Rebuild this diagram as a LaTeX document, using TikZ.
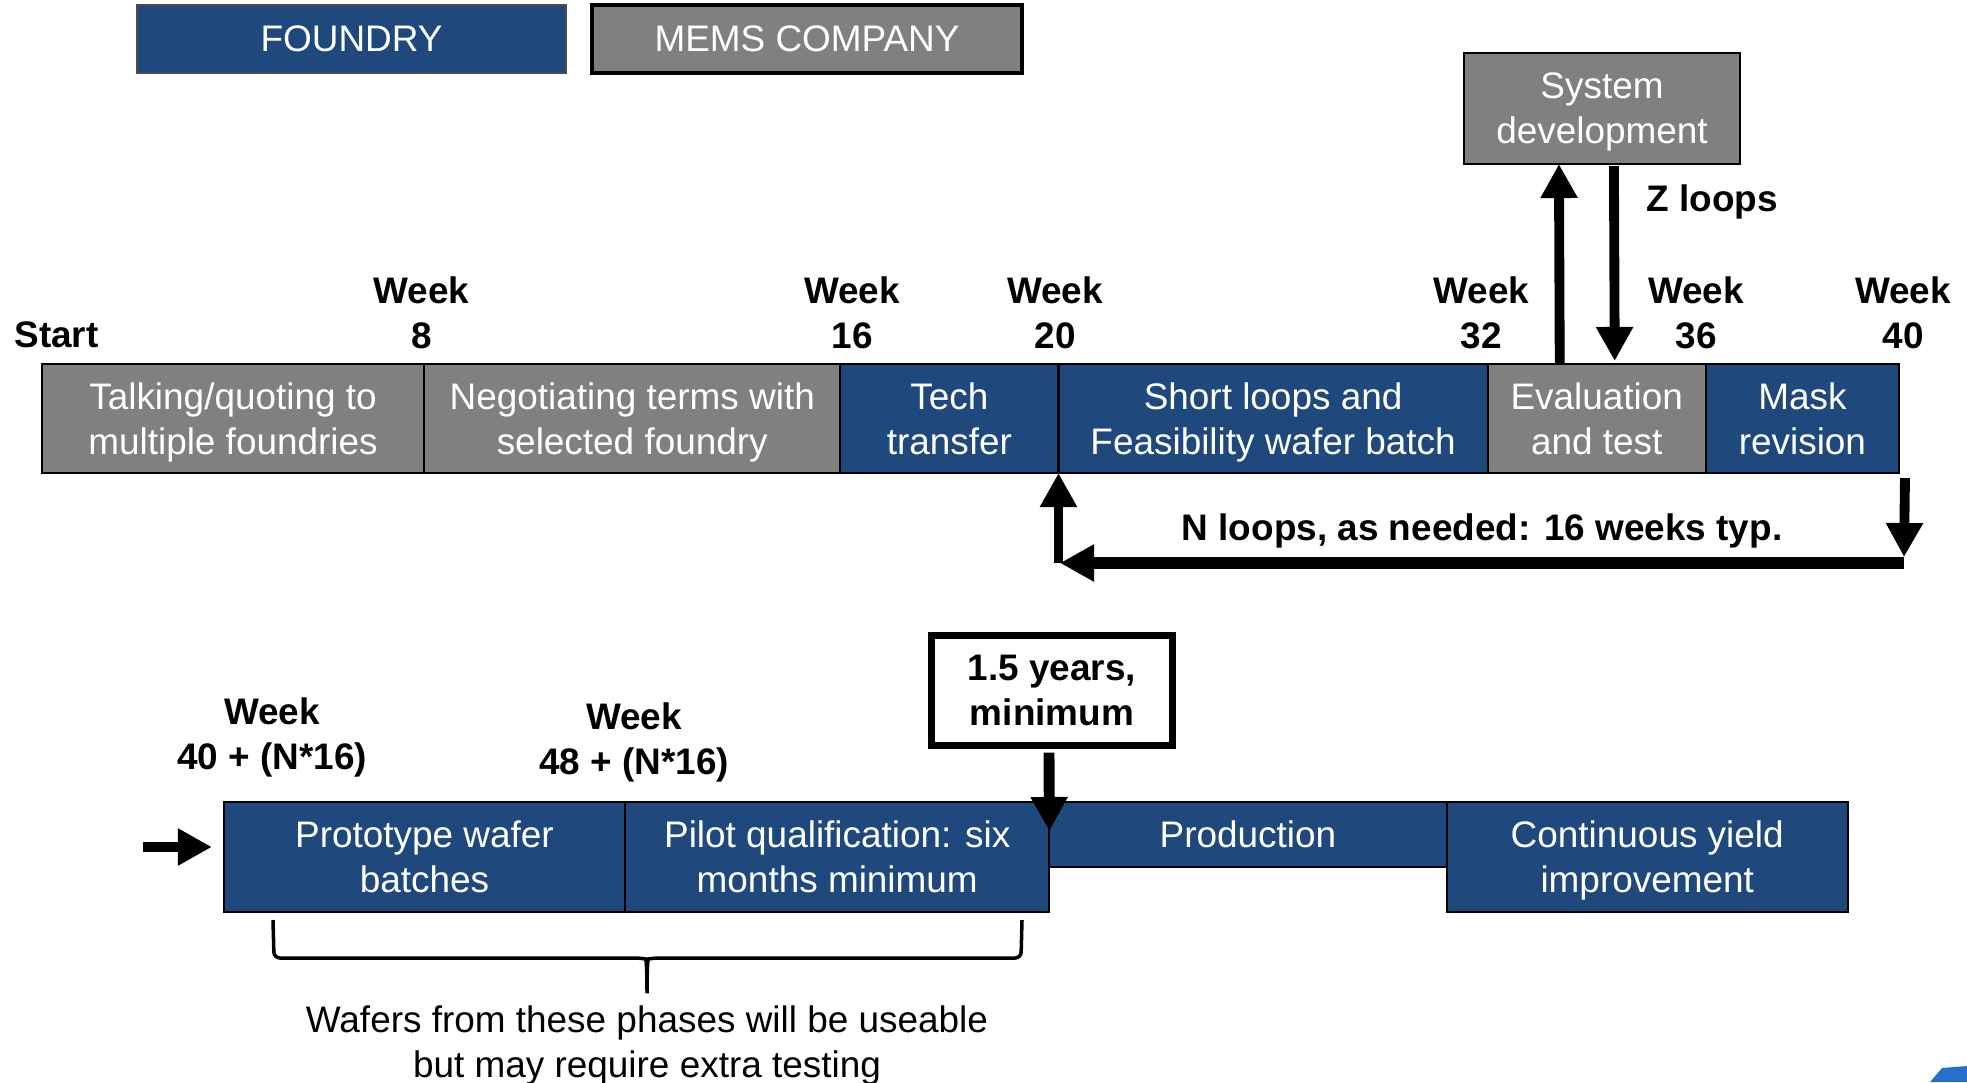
\documentclass[tikz,border=0pt]{standalone}
\usepackage{fontspec}
\setmainfont{Liberation Sans}
\usepackage{tikz}
\usetikzlibrary{arrows.meta, calc, positioning}

\definecolor{fblue}{RGB}{31,73,125}
\definecolor{mgray}{RGB}{128,128,128}
\definecolor{logoblue}{RGB}{36,112,200}

\begin{document}
\begin{tikzpicture}[x=0.01cm, y=-0.01cm,
    every node/.style={font=\fontsize{10.5}{12.8}\selectfont, inner sep=0pt, outer sep=0pt, align=center, text depth=0pt},
    phase/.style={draw=black, line width=0.6pt, text=white},
    fdybox/.style={phase, fill=fblue},
    memsbox/.style={phase, fill=mgray},
    week/.style={font=\fontsize{10.5}{12.8}\selectfont\bfseries},
    fat/.style={-{Triangle[width=0.35cm, length=0.34cm]}, line width=2.8pt}]
  \useasboundingbox (0,0) rectangle (1967,1082);

  % legend
  \node[fdybox, draw=black!70, minimum width=4.29cm, minimum height=0.68cm] (legf) at (351.5,39) {FOUNDRY};
  \node[memsbox, line width=1pt, minimum width=4.30cm, minimum height=0.68cm] (legm) at (807,39) {MEMS COMPANY};

  % first row
  \node[memsbox, minimum width=3.82cm, minimum height=1.09cm] (talk) at (233,418.5) {Talking/quoting to\\multiple foundries};
  \node[memsbox, minimum width=4.16cm, minimum height=1.09cm, right=0pt of talk] (nego) {Negotiating terms with\\selected foundry};
  \node[fdybox, minimum width=2.18cm, minimum height=1.09cm, right=0pt of nego] (tech) {Tech\\transfer};
  \node[fdybox, minimum width=4.29cm, minimum height=1.09cm, right=0pt of tech] (short) {Short loops and\\Feasibility wafer batch};
  \node[memsbox, minimum width=2.18cm, minimum height=1.09cm, right=0pt of short] (eval) {Evaluation\\and test};
  \node[fdybox, minimum width=1.93cm, minimum height=1.09cm, right=0pt of eval] (mask) {Mask\\revision};

  \node[memsbox, minimum width=2.76cm, minimum height=1.11cm] (sys) at (1602,108.5) {System\\development};

  \node[week] (start) at (56.5,335) {Start};
  \node[week] (w8) at (421.5,312.5) {Week\\8};
  \node[week] (w16) at (852,312.5) {Week\\16};
  \node[week] (w20) at (1055,312.5) {Week\\20};
  \node[week] (w32) at (1481.5,312.5) {Week\\32};
  \node[week] (w36) at (1696,312.5) {Week\\36};
  \node[week] (w40) at (1903,312.5) {Week\\40};

  \node[week] (zloops) at (1712,198) {Z loops};
  \draw[fat] ($(eval.north west)+(72,0)$) -- ($(sys.south west)+(95,0)$);
  \draw[fat] ($(sys.south west)+(150,2)$) -- ($(eval.north west)+(127,-3)$);

  % N loops back to week 20
  \coordinate (nright) at (1904,563);
  \coordinate (nleft) at (1060,563);
  \draw[fat] ($(mask.south east)+(6,5)$) -- ($(nright)+(0,-6)$);
  \draw[fat, line width=3.2pt] (nright) -- (nleft);
  \draw[fat] (short.south west |- nright) -- (short.south west);
  \node[week] (nloops) at (1482,527) {N loops, as needed: 16 weeks typ.};

  % second row
  \node[fdybox, minimum width=4.01cm, minimum height=1.10cm] (proto) at (424.5,857) {Prototype wafer\\batches};
  \node[fdybox, minimum width=4.24cm, minimum height=1.10cm, right=0pt of proto] (pilot) {Pilot qualification: six\\months minimum};
  \node[fdybox, minimum width=3.97cm, minimum height=0.65cm, anchor=north west] (prod) at (pilot.north east) {Production};
  \node[fdybox, minimum width=4.01cm, minimum height=1.10cm, anchor=north west] (cont) at (prod.north east) {Continuous yield\\improvement};

  \node[week] (w40n) at (272,733.5) {Week\\40 + (N*16)};
  \node[week] (w48n) at (634,738.5) {Week\\48 + (N*16)};

  \coordinate (entry) at (143,847);
  \draw[fat, line width=3.1pt] (entry) -- ($(proto.west)+(-12,-10)$);

  \node[week, draw=black, line width=2pt, fill=white, minimum width=2.41cm, minimum height=1.10cm] (yrs) at (1052,690.5) {1.5 years,\\minimum};
  \draw[fat, line width=3.1pt] ($(yrs.south)+(-3,7)$) -- ($(prod.north west)+(0,29)$);

  % brace under the first two phases
  \draw[line width=1pt, rounded corners=0.06cm] (273,920) -- (274,958) -- (640,958)
    .. controls (646,959) and (647,968) .. (647,997)
    .. controls (647,968) and (648,959) .. (654,958) -- (1021,958) -- (1022,920);
  \node (wafers) at (647,1041.5) {Wafers from these phases will be useable\\but may require extra testing};

  \fill[logoblue] (1930,1082) -- (1942,1068) -- (1967,1066) -- (1967,1082) -- cycle;
\end{tikzpicture}
\end{document}
